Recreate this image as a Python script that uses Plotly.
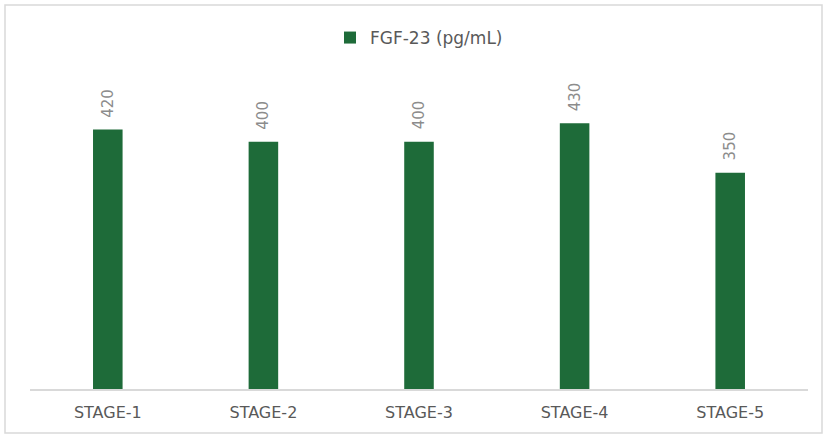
import plotly.graph_objects as go

# FGF-23 levels by CKD stage
stages = ["STAGE-1", "STAGE-2", "STAGE-3", "STAGE-4", "STAGE-5"]
fgf23 = [420, 400, 400, 430, 350]
series_name = "FGF-23 (pg/mL)"

bar_color = "#1E6B39"
FONT = "DejaVu Sans, Lato, sans-serif"
W, H = 823, 435
ml, mr, mt, mb = 30, 15, 80, 46
plot_w = W - ml - mr
plot_h = H - mt - mb

fig = go.Figure()
fig.add_trace(go.Bar(
    x=stages,
    y=fgf23,
    name=series_name,
    marker=dict(color=bar_color, line=dict(width=0)),
    width=0.19,
    showlegend=True,
))

# value labels above each bar, rotated
for s, v in zip(stages, fgf23):
    fig.add_annotation(
        x=s, y=v, xref="x", yref="y",
        text=str(v), showarrow=False,
        textangle=-90, yanchor="bottom", yshift=10,
        font=dict(family=FONT, size=15, color="#8C8C8C"),
    )

# outer chart frame
def px_to_paper_x(px):
    return (px - ml) / plot_w

def px_to_paper_y(py):
    return (H - mb - py) / plot_h

fig.add_shape(
    type="rect", xref="paper", yref="paper",
    x0=px_to_paper_x(5), x1=px_to_paper_x(822),
    y0=px_to_paper_y(433), y1=px_to_paper_y(5),
    line=dict(color="#D9D9D9", width=1.5),
    fillcolor="rgba(0,0,0,0)", layer="below",
)

fig.update_layout(
    width=W, height=H,
    margin=dict(l=ml, r=mr, t=mt, b=mb),
    paper_bgcolor="white",
    plot_bgcolor="white",
    font=dict(family=FONT, color="#595959"),
    showlegend=True,
    legend=dict(
        orientation="h", x=0.5, xanchor="center",
        y=px_to_paper_y(38), yanchor="middle",
        font=dict(family=FONT, size=17, color="#595959"),
        itemwidth=30,
    ),
    xaxis=dict(
        showline=True, linecolor="#D9D9D9", linewidth=1.5,
        ticks="", tickfont=dict(family=FONT, size=16, color="#595959"),
        ticklabelstandoff=8,
        showgrid=False,
    ),
    yaxis=dict(
        range=[0, 500], visible=False, showgrid=False, zeroline=False,
    ),
    bargap=0.8,
)

fig.write_html("out.html")
